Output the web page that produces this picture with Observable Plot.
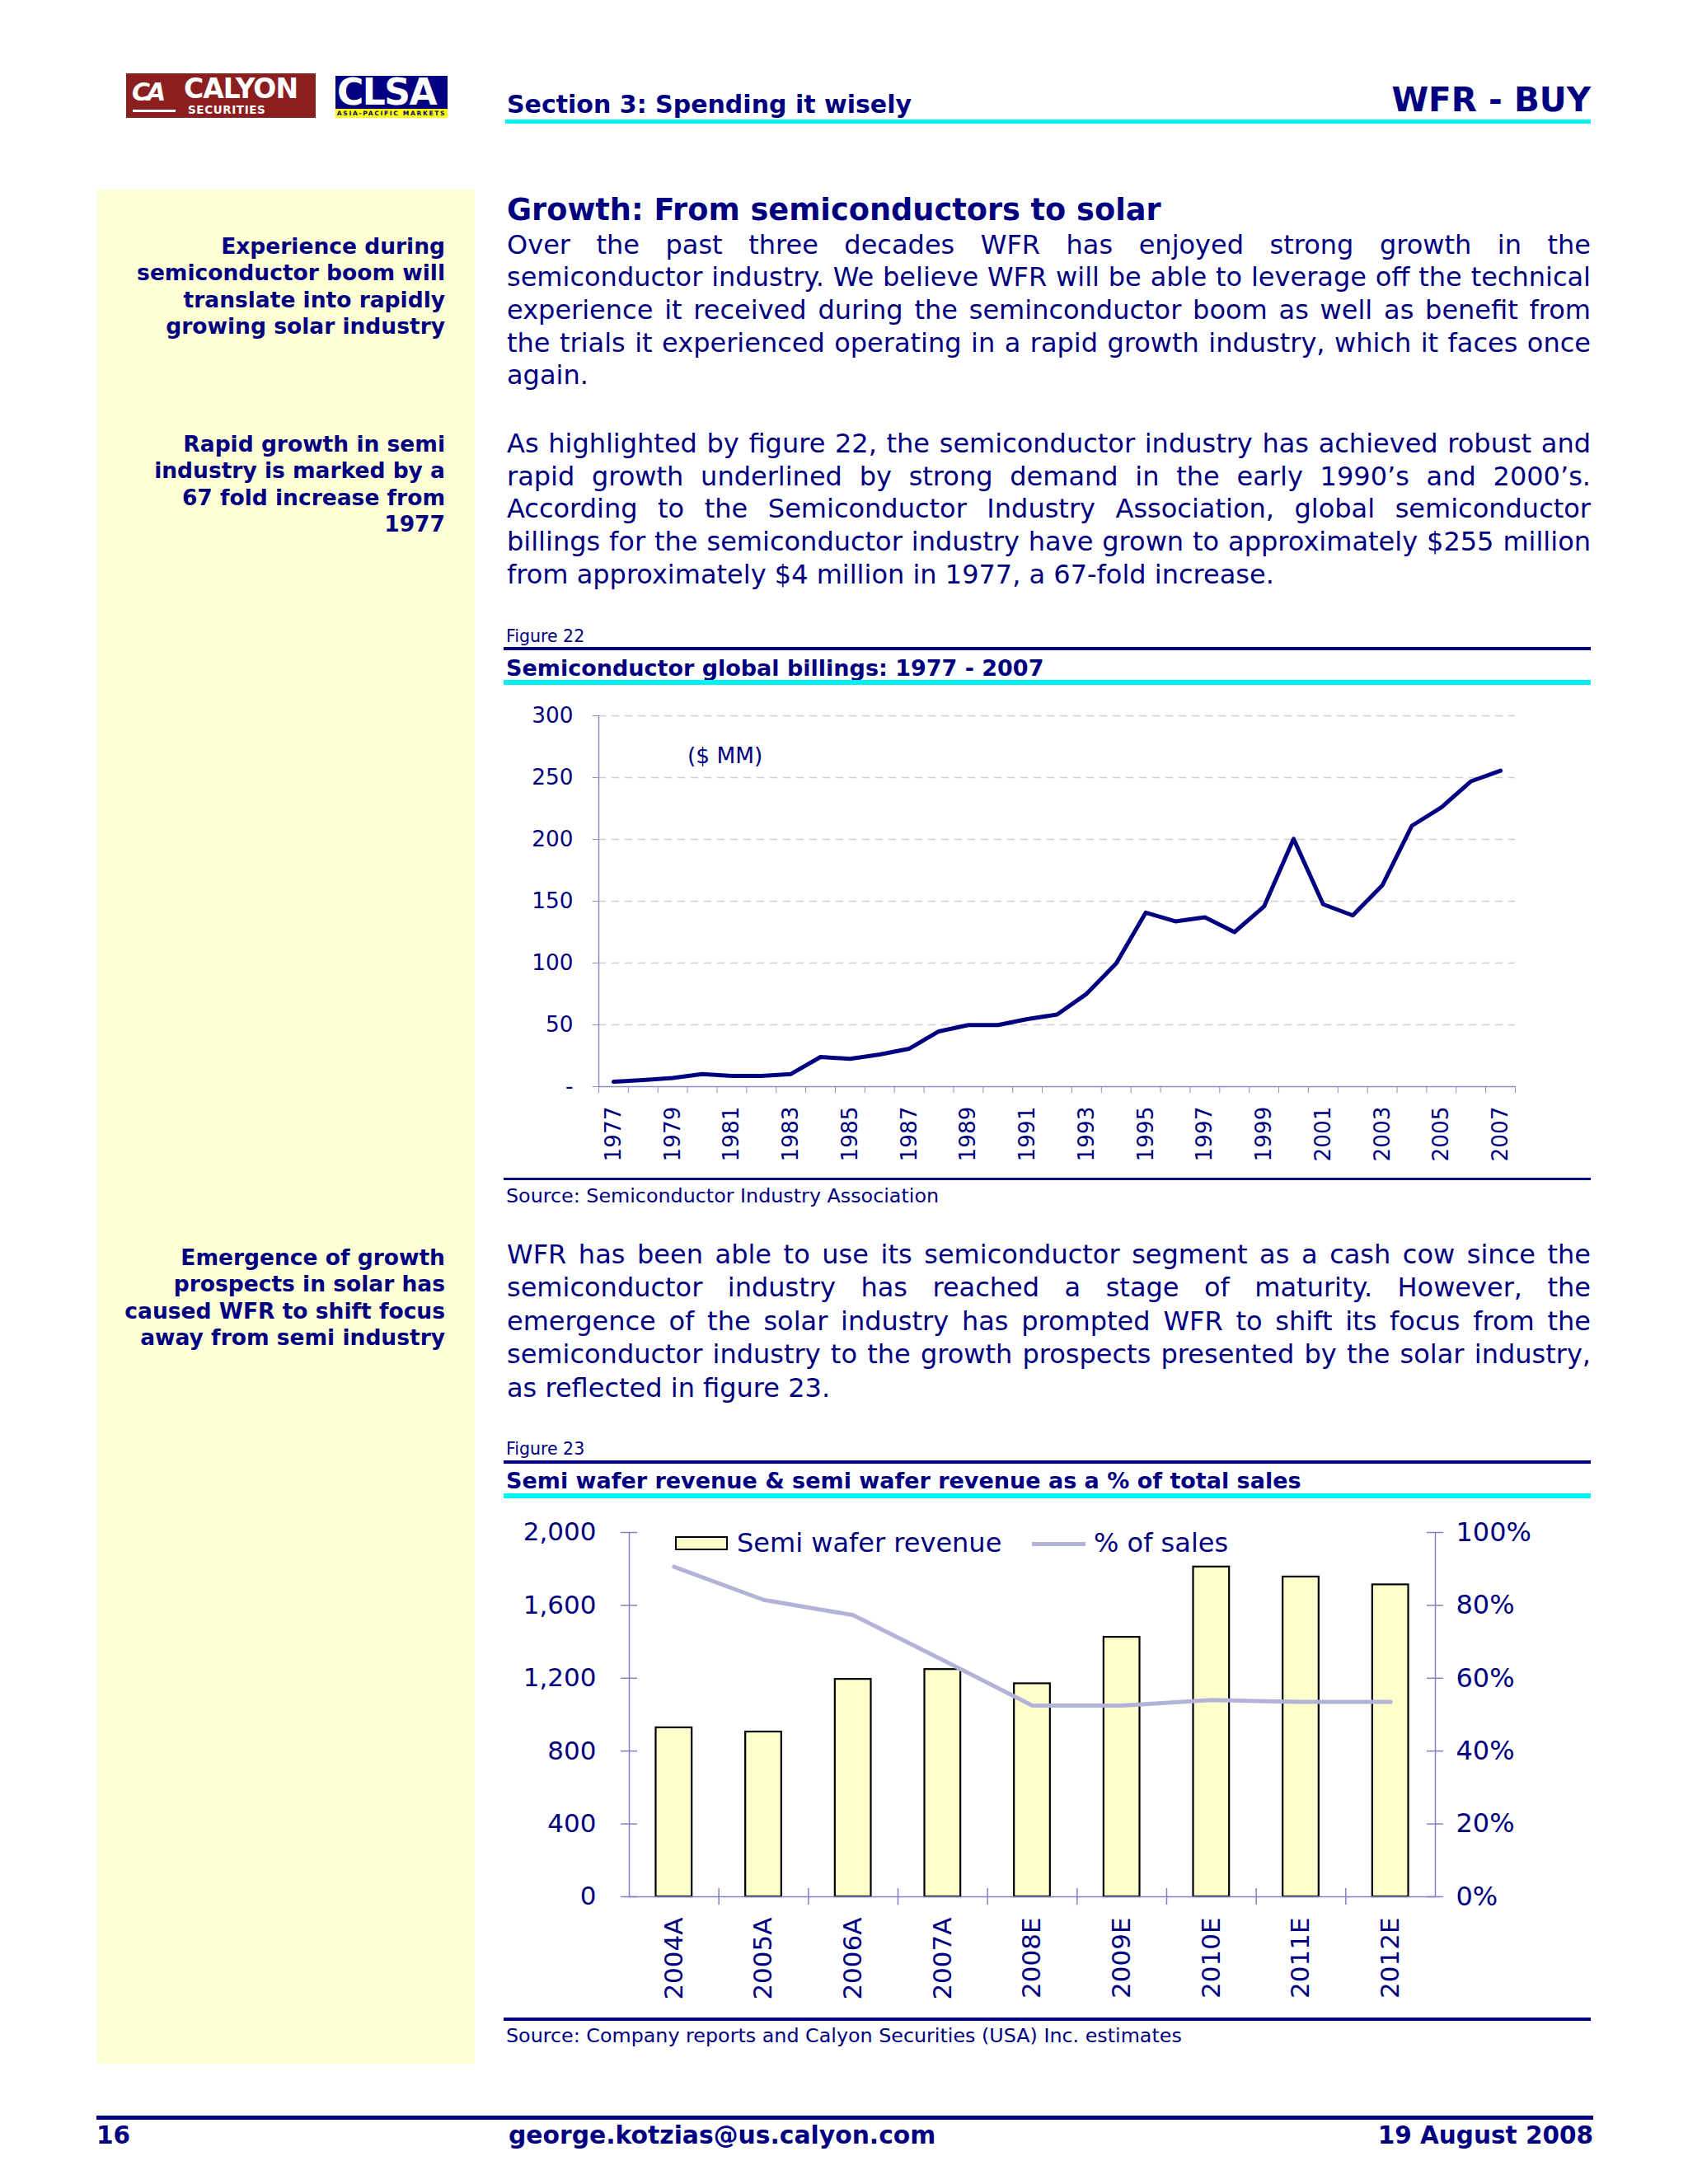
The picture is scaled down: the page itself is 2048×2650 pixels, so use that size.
<!DOCTYPE html>
<html><head><meta charset="utf-8">
<script src="https://cdn.jsdelivr.net/npm/d3@7"></script>
<script src="https://cdn.jsdelivr.net/npm/@observablehq/plot@0.6"></script>
<style>
body{margin:0;background:#fff;}
#page{position:relative;width:2048px;height:2650px;background:#fff;font-family:'DejaVu Sans',Verdana,sans-serif;color:#000080;overflow:hidden;}
.abs{position:absolute;white-space:nowrap;}
.box{position:absolute;}
.lg{position:absolute;white-space:nowrap;font-family:'DejaVu Sans';font-weight:bold;}
</style></head><body><div id="page"></div>
<script>
// ---------- DATA ----------
const years22 = [1977,1978,1979,1980,1981,1982,1983,1984,1985,1986,1987,1988,1989,1990,1991,1992,1993,1994,1995,1996,1997,1998,1999,2000,2001,2002,2003,2004,2005,2006,2007];
const billings22 = [4,5.3,7,10.2,8.7,8.7,10.2,24,22.5,26,30.7,44.7,49.8,49.8,54.7,58.3,75.1,99.7,140.8,133.7,137,125,145.7,200.4,147.5,138.5,162.8,211,225.9,247,255.6];
const yTicks22 = [0,50,100,150,200,250,300];
const xLabels22 = [1977,1979,1981,1983,1985,1987,1989,1991,1993,1995,1997,1999,2001,2003,2005,2007];

const cats23 = ["2004A","2005A","2006A","2007A","2008E","2009E","2010E","2011E","2012E"];
const revenue23 = [928,905,1194,1248,1170,1425,1811,1756,1713];
const pctSales23 = [90.6,81.5,77.3,65,52.5,52.5,54,53.5,53.5];
const yTicks23 = [0,400,800,1200,1600,2000];

const para1 = ["Over the past three decades WFR has enjoyed strong growth in the",
"semiconductor industry. We believe WFR will be able to leverage off the technical",
"experience it received during the seminconductor boom as well as benefit from",
"the trials it experienced operating in a rapid growth industry, which it faces once",
"again."];
const para2 = ["As highlighted by figure 22, the semiconductor industry has achieved robust and",
"rapid growth underlined by strong demand in the early 1990\u2019s and 2000\u2019s.",
"According to the Semiconductor Industry Association, global semiconductor",
"billings for the semiconductor industry have grown to approximately $255 million",
"from approximately $4 million in 1977, a 67-fold increase."];
const para3 = ["WFR has been able to use its semiconductor segment as a cash cow since the",
"semiconductor industry has reached a stage of maturity. However, the",
"emergence of the solar industry has prompted WFR to shift its focus from the",
"semiconductor industry to the growth prospects presented by the solar industry,",
"as reflected in figure 23."];
const side1 = ["Experience during","semiconductor boom will","translate into rapidly","growing solar industry"];
const side2 = ["Rapid growth in semi","industry is marked by a","67 fold increase from","1977"];
const side3 = ["Emergence of growth","prospects in solar has","caused WFR to shift focus","away from semi industry"];

// ---------- HELPERS ----------
const page = document.getElementById("page");
const NAVY = "#000080", CYAN = "#00F2F2";
function box(x, y, w, h, color){
  const d = document.createElement("div"); d.className="box";
  Object.assign(d.style,{left:x+"px",top:y+"px",width:w+"px",height:h+"px",background:color});
  page.appendChild(d); return d;
}
function text(str, {x, y, size, bold=false, anchor="start", color=NAVY, lh=null}){
  const d = document.createElement("div"); d.className="abs";
  const L = lh || size*1.3;
  d.textContent = str;
  Object.assign(d.style,{fontSize:size+"px",fontWeight:bold?"bold":"normal",color,lineHeight:L+"px",top:(y-L/2)+"px"});
  if(anchor==="end") d.style.right=(2048-x)+"px"; else d.style.left=x+"px";
  page.appendChild(d); return d;
}
function lines(arr, {x, ys, size, bold=false, anchor="start", width=null, justify=false}){
  arr.forEach((s,i)=>{
    const d = text("", {x, y:ys[i], size, bold, anchor});
    const sp = document.createElement("span"); sp.textContent = s; d.appendChild(sp);
    if(justify && i < arr.length-1){
      const nat = sp.getBoundingClientRect().width;
      const n = (s.match(/ /g)||[]).length;
      if(n>0) sp.style.wordSpacing = ((width-nat)/n)+"px";
    }
  });
}
const L0 = 611, R0 = 1930, W0 = R0-L0;   // rules
const T0 = 615, TW = R0-T0;              // text

// ---------- HEADER ----------
const cal = box(153, 89, 230, 54, "#8B1E1E");
cal.innerHTML = '<div class="lg" style="left:7px;top:8px;color:#fff;font-size:30px;line-height:30px;font-style:italic;letter-spacing:-4px">CA</div>'+
 '<div class="lg" style="left:70px;top:3px;color:#fff;font-size:33px;line-height:32px;letter-spacing:-1px">CALYON</div>'+
 '<div class="lg" style="left:75px;top:37px;color:#fff;font-size:13.5px;line-height:14px;letter-spacing:0.6px">SECURITIES</div>'+
 '<div style="position:absolute;left:8px;top:44px;width:52px;height:3px;background:#fff"></div>';
const cl = box(407, 92, 136, 51, "#000080");
cl.innerHTML = '<div class="lg" style="left:2px;top:1px;color:#fff;font-size:44px;line-height:38px;letter-spacing:-1.5px">CLSA</div>'+
 '<div class="lg" style="left:0;top:40px;width:136px;height:11px;background:#FFFF00;color:#000080;font-size:7.5px;letter-spacing:1.7px;text-align:center;line-height:11px">ASIA-PACIFIC MARKETS</div>';
text("Section 3: Spending it wisely",{x:T0,y:126,size:30,bold:true});
text("WFR - BUY",{x:R0,y:121,size:40.5,bold:true,anchor:"end"});
box(L0+2,145,W0-2,5,CYAN);

// ---------- SIDEBAR ----------
box(118,230,458,2275,"#FFFFD5");
lines(side1,{x:540,ys:[299,331.5,364,396.5],size:26.5,bold:true,anchor:"end"});
lines(side2,{x:540,ys:[539,571.5,604,636.5],size:26.5,bold:true,anchor:"end"});
lines(side3,{x:540,ys:[1526,1558.5,1591,1623.5],size:26.5,bold:true,anchor:"end"});

// ---------- BODY ----------
text("Growth: From semiconductors to solar",{x:T0,y:255,size:36.7,bold:true});
lines(para1,{x:T0,ys:[297.5,337,377,416.5,456],size:32,width:TW,justify:true});
lines(para2,{x:T0,ys:[538.5,578.3,618,658,697.5],size:32,width:TW,justify:true});
lines(para3,{x:T0,ys:[1523,1563,1604,1644,1685],size:32,width:TW,justify:true});

// ---------- FIGURE 22 ----------
text("Figure 22",{x:T0-1,y:772,size:20.5});
box(L0,785,W0,4,NAVY);
text("Semiconductor global billings: 1977 - 2007",{x:T0-1,y:811,size:27,bold:true});
box(L0,825,W0,6,CYAN);
box(L0,1429,W0,3,NAVY);
text("Source: Semiconductor Industry Association",{x:T0-1,y:1451,size:23.8});

const AX = "#8c8cc8";
const data22 = years22.map((yr,i)=>({year:yr,value:billings22[i]}));
const xDom22 = [years22[0]-0.5, years22[years22.length-1]+0.5];
const bounds22 = years22.map(y=>y-0.5).concat([xDom22[1]]);
const p22 = Plot.plot({
  width: W0, height: 570,
  marginLeft: 115, marginRight: 92, marginTop: 18, marginBottom: 102,
  style:{fontFamily:"'DejaVu Sans'",fontSize:"26.3px",color:NAVY,background:"transparent",overflow:"visible",maxWidth:"none"},
  x:{type:"linear",domain:xDom22},
  y:{domain:[0,300]},
  marks:[
    Plot.gridY(yTicks22.slice(1),{stroke:"#cdcdcd",strokeOpacity:1,strokeWidth:1.5,strokeDasharray:"9,7"}),
    Plot.ruleY([0],{stroke:AX,strokeWidth:1.5}),
    Plot.ruleX([xDom22[0]],{y1:0,y2:300,stroke:AX,strokeWidth:1.5}),
    Plot.axisY({ticks:yTicks22,tickSize:7,tickPadding:24,stroke:AX,tickFormat:d=>d===0?"-":String(d),label:null}),
    Plot.axisX({ticks:bounds22,tickSize:8,tickFormat:()=>"",stroke:AX,label:null}),
    Plot.axisX({ticks:xLabels22,tickSize:0,tickPadding:24,tickRotate:-90,tickFormat:d=>String(d),label:null}),
    Plot.line(data22,{x:"year",y:"value",stroke:NAVY,strokeWidth:5})
  ]
});
const w22 = document.createElement("div"); w22.className="box";
Object.assign(w22.style,{left:L0+"px",top:"850px",width:W0+"px"});
w22.appendChild(p22); page.appendChild(w22);
text("($ MM)",{x:834,y:917,size:26.4});

// ---------- FIGURE 23 ----------
text("Figure 23",{x:T0-1,y:1758,size:20.5});
box(L0,1772,W0,4,NAVY);
text("Semi wafer revenue & semi wafer revenue as a % of total sales",{x:T0-1,y:1797,size:27,bold:true});
box(L0,1812,W0,6,CYAN);
box(L0,2448,W0,4,NAVY);
text("Source: Company reports and Calyon Securities (USA) Inc. estimates",{x:T0-1,y:2470,size:23.8});

const AX2 = "#8080c4";
const mL=152, mR=189, mT=19, mB=139, H23=600;
const plotW23 = W0-mL-mR;
const bw = plotW23/cats23.length;
const data23 = cats23.map((c,i)=>({cat:c,rev:revenue23[i],pct:pctSales23[i]}));
const p23 = Plot.plot({
  width: W0, height: H23,
  marginLeft: mL, marginRight: mR, marginTop: mT, marginBottom: mB,
  style:{fontFamily:"'DejaVu Sans'",fontSize:"31px",color:NAVY,background:"transparent",overflow:"visible",maxWidth:"none"},
  x:{type:"band",domain:cats23,padding:0,round:false},
  y:{domain:[0,2000]},
  marks:[
    Plot.barY(data23,{x:"cat",y:"rev",fill:"#FFFFCC",stroke:"#000",strokeWidth:2.2,insetLeft:32.5,insetRight:32.5}),
    Plot.ruleY([0],{stroke:AX2,strokeWidth:1.5}),
    Plot.ruleX([cats23[0]],{dx:-bw/2,y1:0,y2:2000,stroke:AX2,strokeWidth:1.5}),
    Plot.ruleX([cats23[cats23.length-1]],{dx:bw/2,y1:0,y2:2000,stroke:AX2,strokeWidth:1.5}),
    Plot.ruleX(cats23.slice(1),{dx:-bw/2,y1:0,y2:0,insetTop:-10,insetBottom:-10,stroke:AX2,strokeWidth:1.5}),
    Plot.ruleY(yTicks23,{insetLeft:-10,insetRight:plotW23-10,stroke:AX2,strokeWidth:1.5}),
    Plot.ruleY(yTicks23,{insetLeft:plotW23-10,insetRight:-10,stroke:AX2,strokeWidth:1.5}),
    Plot.axisY({anchor:"left",ticks:yTicks23,tickSize:0,tickPadding:40,tickFormat:d3.format(","),label:null}),
    Plot.axisY({anchor:"right",ticks:yTicks23,tickSize:0,tickPadding:25,tickFormat:d=>(d/20)+"%",label:null,fontSize:"32px"}),
    Plot.axisX({tickSize:0,tickPadding:25,tickRotate:-90,label:null}),
    Plot.line(data23,{x:"cat",y:d=>d.pct*20,stroke:"#b3b3da",strokeWidth:5,curve:"linear",strokeLinejoin:"round"})
  ]
});
const w23 = document.createElement("div"); w23.className="box";
Object.assign(w23.style,{left:L0+"px",top:(1840)+"px",width:W0+"px"});
w23.appendChild(p23); page.appendChild(w23);
// legend
const sw = box(819,1864,64,17,"#FFFFCC"); sw.style.border="2px solid #000"; sw.style.boxSizing="border-box";
text("Semi wafer revenue",{x:894,y:1873,size:32});
box(1252,1871,65,5,"#b3b3da");
text("% of sales",{x:1327,y:1873,size:32});

// ---------- FOOTER ----------
box(117,2567,1816,5,NAVY);
text("16",{x:117,y:2591,size:29.5,bold:true});
text("george.kotzias@us.calyon.com",{x:617,y:2591,size:29.8,bold:true});
text("19 August 2008",{x:1933,y:2591,size:29.5,bold:true,anchor:"end"});
</script></body></html>
